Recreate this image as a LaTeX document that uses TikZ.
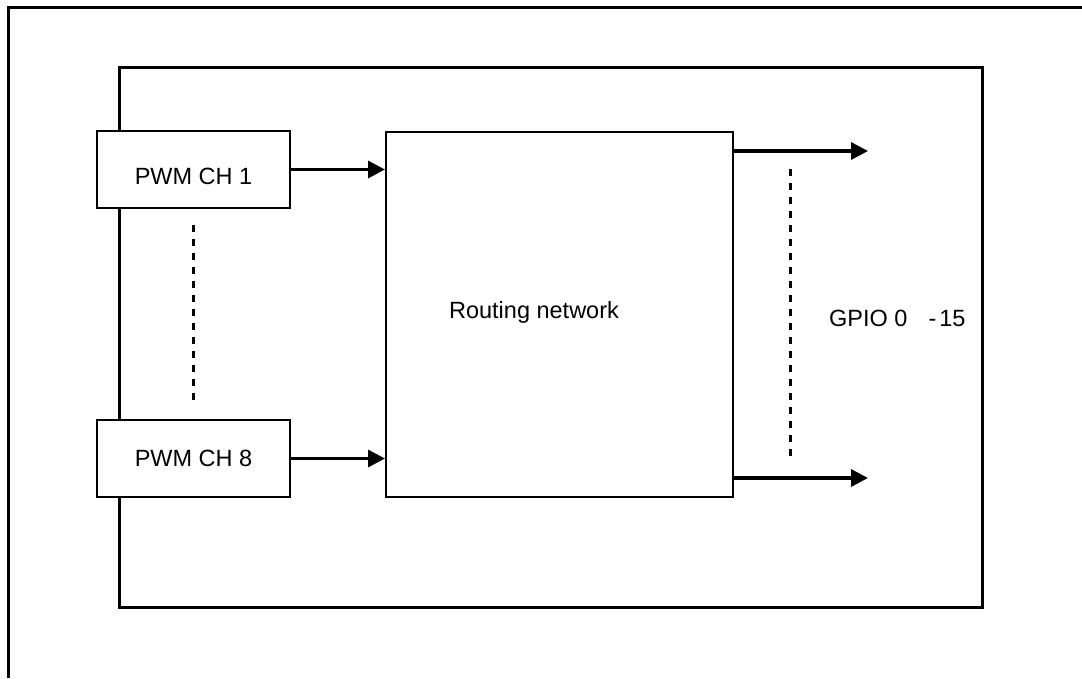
\documentclass[tikz,border=0pt]{standalone}
\usepackage{fontspec}
\setmainfont{Liberation Sans}
\usetikzlibrary{arrows.meta}
\begin{document}
\begin{tikzpicture}[x=1pt,y=-1pt,
  frame/.style={line width=3pt},
  blk/.style={draw,line width=2pt,rectangle,inner sep=0pt},
  arr/.style={line width=3.4pt,-{Triangle[length=17pt,width=17pt]}},
  dots/.style={line width=3pt,dash pattern=on 7pt off 7pt},
  lbl/.style={inner sep=0pt,font=\fontsize{23.5}{27}\selectfont}]
\useasboundingbox (0,0) rectangle (1082,678);
% page frame (cut off)
\draw[frame] (8,678) -- (8,7) -- (1082,7);
% inner block
\draw[frame] (119,67) rectangle (982,607);
% PWM channels
\node[blk,fill=white,minimum width=193pt,minimum height=77pt,
  label={[lbl,yshift=-7pt]center:PWM CH 1}] (ch1) at (193.5,169.5) {};
\node[blk,fill=white,minimum width=193pt,minimum height=77pt,
  label={[lbl]center:PWM CH 8}] (ch8) at (193.5,458.5) {};
% routing network
\node[blk,minimum width=347pt,minimum height=365pt] (rn) at (559.5,314.5) {};
\node[lbl] (rnt) at (534,312) {Routing network};
% output ends
\coordinate (o1) at (868,151);
\coordinate (o2) at (868,478);
\coordinate (s1) at (733,151);
\coordinate (s2) at (733,478);
% arrows
\draw[arr] (ch1.east) -- (ch1.east -| rn.west);
\draw[arr] (ch8.east) -- (ch8.east -| rn.west);
\draw[arr] (s1) -- (o1);
\draw[arr] (s2) -- (o2);
% dashed continuation lines
\coordinate (d1a) at (193,225);
\coordinate (d1b) at (193,403);
\coordinate (d2a) at (790,169);
\coordinate (d2b) at (790,458);
\draw[dots] (d1a) -- (d1b);
\draw[dots] (d2a) -- (d2b);
% GPIO label
\node[lbl,anchor=west] (gpio) at (829,318) {GPIO 0\hspace{21pt}-\hspace{3pt}15};
\end{tikzpicture}
\end{document}
